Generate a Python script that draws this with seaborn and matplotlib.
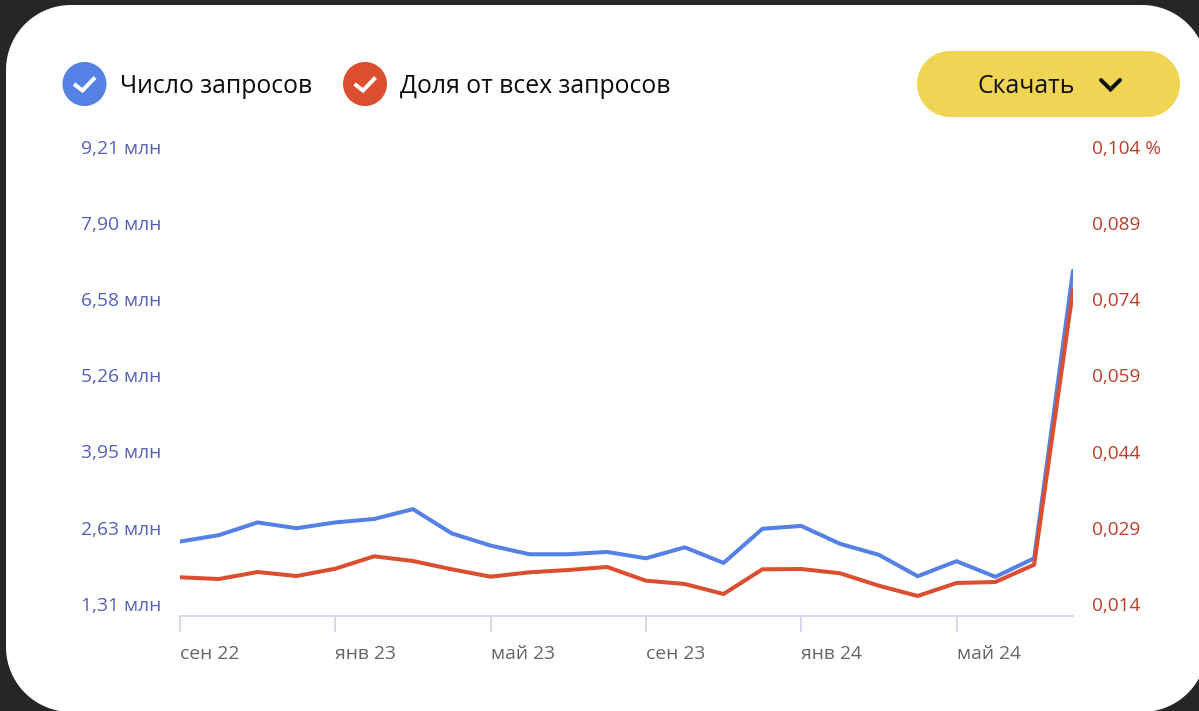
import matplotlib
matplotlib.use("Agg")
import matplotlib.pyplot as plt
from matplotlib.patches import Polygon, Circle
from matplotlib.transforms import ScaledTranslation
import numpy as np
import pandas as pd
import seaborn as sns

months = ["сен 22", "окт 22", "ноя 22", "дек 22", "янв 23", "фев 23", "мар 23", "апр 23",
          "май 23", "июн 23", "июл 23", "авг 23", "сен 23", "окт 23", "ноя 23", "дек 23",
          "янв 24", "фев 24", "мар 24", "апр 24", "май 24", "июн 24", "июл 24", "авг 24"]
requests_mln = [2.39, 2.50, 2.72, 2.62, 2.72, 2.78, 2.95, 2.53, 2.32, 2.17, 2.17, 2.21,
                2.10, 2.29, 2.02, 2.61, 2.66, 2.35, 2.16, 1.79, 2.05, 1.78, 2.10, 7.07]
share_pct = [0.01926, 0.01892, 0.0203, 0.01951, 0.02095, 0.02339, 0.02247, 0.02083,
             0.01938, 0.02024, 0.0207, 0.02129, 0.01859, 0.01794, 0.01597, 0.02083,
             0.02089, 0.02005, 0.0176, 0.01558, 0.01814, 0.01833, 0.02174, 0.07584]
left_ticks = [1.31, 2.63, 3.95, 5.26, 6.58, 7.90, 9.21]
left_labels = ["1,31 млн", "2,63 млн", "3,95 млн", "5,26 млн", "6,58 млн", "7,90 млн", "9,21 млн"]
right_ticks = [0.014, 0.029, 0.044, 0.059, 0.074, 0.089, 0.104]
right_labels = ["0,014", "0,029", "0,044", "0,059", "0,074", "0,089", "0,104 %"]
x_tick_months = ["сен 22", "янв 23", "май 23", "сен 23", "янв 24", "май 24"]
legend_labels = ["Число запросов", "Доля от всех запросов"]
button_label = "Скачать"

BLUE = "#5580E4"
RED = "#DB4E30"
BLUE_TXT = "#5661B8"
RED_TXT = "#B93F2C"
AXIS = "#D3D9EE"
W, H = 1199, 711

sns.set_theme(style="white")
plt.rcParams["font.family"] = ["Open Sans", "DejaVu Sans"]

df = pd.DataFrame({"i": range(len(months)), "month": months,
                   "requests": requests_mln, "share": share_pct})


def round_rect(l, t, r, b, rad, **kw):
    """Rectangle with truly circular corners, in overlay pixel coordinates."""
    pts = []
    for cx, cy, a0 in [(r - rad, t + rad, -90), (r - rad, b - rad, 0),
                       (l + rad, b - rad, 90), (l + rad, t + rad, 180)]:
        th = np.radians(np.linspace(a0, a0 + 90, 40))
        pts.append(np.column_stack([cx + rad * np.cos(th), cy + rad * np.sin(th)]))
    return Polygon(np.vstack(pts), closed=True, **kw)


fig = plt.figure(figsize=(W / 100, H / 100), dpi=100, facecolor="#262626")

# page-pixel overlay for the card, legend and button
bg = fig.add_axes([0, 0, 1, 1], zorder=0)
bg.set_xlim(0, W)
bg.set_ylim(H, 0)
bg.axis("off")
bg.add_patch(round_rect(6, 5, 1207, 712, 65, fc="white", ec="none"))
bg.add_patch(round_rect(917, 51, 1180, 117, 33, fc="#F0D555", ec="none"))
bg.plot([1101, 1110.5, 1120], [80, 89.5, 80], color="#111111", lw=2.9,
        solid_capstyle="round", solid_joinstyle="miter")
for cx, col, tx, lab in [(84.5, BLUE, 120, legend_labels[0]), (365, RED, 400, legend_labels[1])]:
    bg.add_patch(Circle((cx, 84), 22, fc=col, ec="none"))
    bg.plot([cx - 10.5, cx - 2, cx + 10.5], [84, 90.5, 77.5], color="white", lw=2.9,
            solid_capstyle="butt", solid_joinstyle="miter")
    bg.text(tx, 86.5, lab, fontsize=17.8, color="#0b0b0b", va="center", ha="left")
bg.text(1026.5, 86.5, button_label, fontsize=17.8, color="#111111", va="center", ha="center")

# plot area: 1 px = 7.9/457 mln on the left, 0.09/457 % on the right
x0, x1, ytop, ybot = 180, 1073, 135, 616
pos = [x0 / W, 1 - ybot / H, (x1 - x0) / W, (ybot - ytop) / H]
ax = fig.add_axes(pos, zorder=1)
ax.patch.set_alpha(0)
ax2 = ax.twinx()
ax2.patch.set_alpha(0)

sns.lineplot(data=df, x="i", y="requests", ax=ax, color=BLUE, lw=2.9, legend=False)
sns.lineplot(data=df, x="i", y="share", ax=ax2, color=RED, lw=2.9, legend=False)

ax.set_xlim(0, len(months) - 1)
per_l = 7.90 / 457
per_r = 0.09 / 457
ax.set_ylim(1.31 - (ybot - 604) * per_l, 1.31 + (604 - ytop) * per_l)
ax2.set_ylim(0.014 - (ybot - 604) * per_r, 0.014 + (604 - ytop) * per_r)

ax.set_yticks(left_ticks, left_labels)
ax2.set_yticks(right_ticks, right_labels)
ax.set_xticks([months.index(m) for m in x_tick_months], x_tick_months)
ax.set_xlabel("")
ax.set_ylabel("")
ax2.set_ylabel("")

ax.tick_params(axis="y", length=0, pad=13.5, labelsize=13.9, labelcolor=BLUE_TXT)
ax2.tick_params(axis="y", length=0, pad=13.5, labelsize=13.7, labelcolor=RED_TXT, right=False)
ax.tick_params(axis="x", bottom=True, length=11.5, width=1.4, color=AXIS, pad=9.5,
               labelsize=13.9, labelcolor="#666666")
up = ScaledTranslation(0, 0.1 / 100, fig.dpi_scale_trans)
for t in ax.get_yticklabels() + ax2.get_yticklabels():
    t.set_transform(t.get_transform() + up)
for t in ax.get_xticklabels():
    t.set_ha("left")
for a in (ax, ax2):
    for side in ("top", "left", "right"):
        a.spines[side].set_visible(False)
    a.grid(False)
ax2.spines["bottom"].set_visible(False)
ax.spines["bottom"].set_color(AXIS)
ax.spines["bottom"].set_linewidth(1.4)

fig.savefig("out.png", dpi=100, facecolor=fig.get_facecolor())
